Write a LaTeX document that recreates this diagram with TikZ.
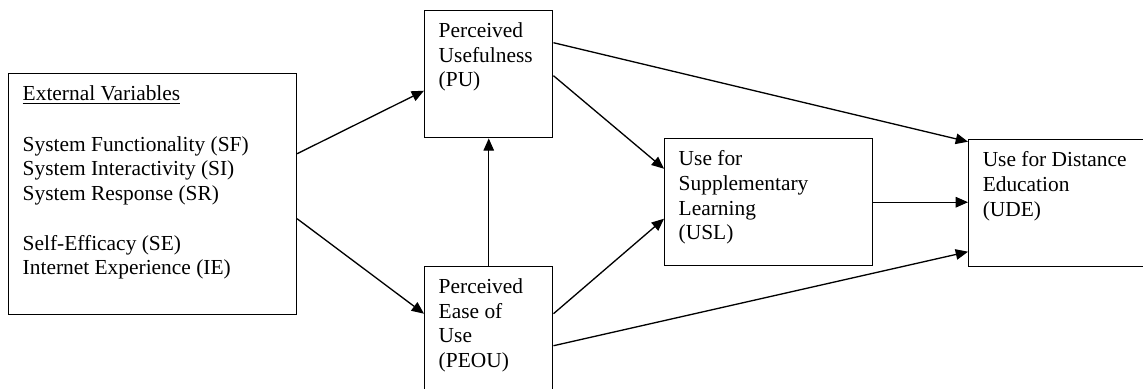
\documentclass[tikz,border=0pt]{standalone}
\usepackage{fontspec}
\setmainfont{Liberation Serif}
\usetikzlibrary{arrows.meta,calc}
\newcommand{\boxtext}[3]{\parbox[c][#2][t]{#1}{\vspace*{6.8pt}#3}}

\begin{document}
\begin{tikzpicture}[x=0.57pt,y=-0.57pt,
  box/.style={draw,line width=0.8pt,anchor=north west,inner xsep=8pt,inner ysep=0pt,
    font=\fontsize{12.2}{14.1}\selectfont},
  arr/.style={line width=0.75pt,-{Triangle[length=7pt,width=6pt]}}]
\useasboundingbox (0,0) rectangle (1143,388);
\clip (0,0) rectangle (1143,388);

% boxes
\node[box] (ext) at (8,73) {\boxtext{148pt}{137.4pt}{\underline{External Variables}\\[14.8pt]
  System Functionality (SF)\\ System Interactivity (SI)\\ System Response (SR)\\[14.1pt]
  Self-Efficacy (SE)\\ Internet Experience (IE)}};
\node[box] (pu) at (424,10) {\boxtext{57pt}{72.4pt}{Perceived\\ Usefulness\\ (PU)}};
\node[box] (peou) at (424,266) {\boxtext{57pt}{76.4pt}{Perceived\\ Ease of\\ Use\\ (PEOU)}};
\node[box] (usl) at (664,138) {\boxtext{102.6pt}{72.4pt}{Use for\\ Supplementary\\ Learning\\ (USL)}};
\node[box] (ude) at (968,139) {\boxtext{93.4pt}{72.4pt}{Use for Distance\\ Education\\ (UDE)}};

% paths
\draw[arr] ($(ext.east)+(0,-40.5)$) -- ($(pu.west)+(0,16.5)$);
\draw[arr] ($(ext.east)+(0,24.5)$) -- ($(peou.west)+(0,-20)$);
\draw[arr] (peou.north) -- (pu.south);
\draw[arr] ($(pu.east)+(0,-31.5)$) -- ($(ude.west)+(0,-61.5)$);
\draw[arr] ($(pu.east)+(0,1.5)$) -- ($(usl.west)+(0,-33.5)$);
\draw[arr] ($(peou.east)+(0,-20)$) -- ($(usl.west)+(0,16.5)$);
\draw[arr] (usl.east) -- (usl.east -| ude.west);
\draw[arr] ($(peou.east)+(0,12)$) -- ($(ude.west)+(0,48.5)$);
\end{tikzpicture}
\end{document}
